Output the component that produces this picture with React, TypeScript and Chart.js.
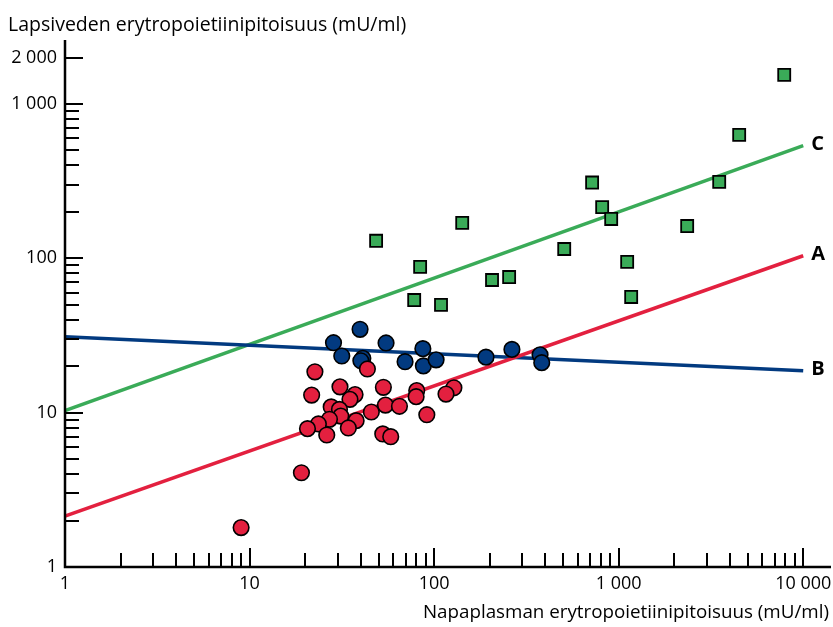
import { useEffect, useRef } from "react";
import { Chart, registerables } from "chart.js";
Chart.register(...registerables);

// Group A (red circles): cord plasma EPO vs amniotic EPO
const redX = [22.6, 43.5, 30.9, 53.1, 37.3, 35.0, 21.7, 80.5, 79.9, 128, 116, 27.7, 30.7, 54.5, 64.9, 45.7, 31.2, 27.1, 37.8, 23.6, 20.6, 34.3, 26.2, 91.3, 52.7, 58.2, 19.1, 9.0];
const redY = [18.4, 19.2, 14.7, 14.6, 13.1, 12.2, 13.0, 13.9, 12.7, 14.5, 13.2, 10.9, 10.5, 11.2, 11.0, 10.1, 9.5, 9.06, 8.88, 8.45, 7.88, 7.96, 7.17, 9.7, 7.28, 6.99, 4.08, 1.8];

// Group B (blue circles)
const blueX = [39.7, 28.5, 54.9, 31.6, 41.1, 40.1, 86.9, 69.6, 87.5, 102.5, 191, 264, 375, 383];
const blueY = [34.7, 28.4, 28.3, 23.3, 22.5, 21.7, 26.0, 21.4, 20.1, 22.0, 22.9, 25.7, 23.7, 21.1];

// Group C (green squares)
const greenX = [48.5, 142, 84, 78, 109, 206, 255, 507, 718, 814, 911, 1112, 1169, 2351, 3506, 4498, 7890];
const greenY = [130, 170, 88, 53.7, 49.9, 72.4, 75.7, 115, 310, 215, 180, 94.8, 56.2, 162, 313, 631, 1545];

// Regression lines (endpoints in data units)
const lineX = [1, 10000];
const lineA = [2.14, 104];
const lineB = [31, 18.7];
const lineC = [10.3, 537];
const lineNames = ["A", "B", "C"];

const xMajorTicks = [1, 10, 100, 1000, 10000];
const xTickLabels = ["1", "10", "100", "1 000", "10 000"];
const yMajorTicks = [1, 10, 100, 1000, 2000];
const yTickLabels = ["1", "10", "100", "1 000", "2 000"];
const minorMultipliers = [2, 3, 4, 5, 6, 7, 8, 9];

const yTitle = "Lapsiveden erytropoietiinipitoisuus (mU/ml)";
const xTitle = "Napaplasman erytropoietiinipitoisuus (mU/ml)";

const RED = "#e3203f";
const BLUE = "#023a80";
const GREEN = "#3aab58";
const FONT = "'Open Sans', sans-serif";

const toPts = (xs: number[], ys: number[]) => xs.map((x, i) => ({ x, y: ys[i] }));

export default function App() {
  const ref = useRef<HTMLCanvasElement | null>(null);
  useEffect(() => {
    if (!ref.current) return;
    const axesPlugin = {
      id: "customAxes",
      afterDraw(chart: any) {
        const ctx = chart.ctx;
        const xs = chart.scales.x;
        const ys = chart.scales.y;
        const ca = chart.chartArea;
        ctx.save();
        ctx.strokeStyle = "#000";
        ctx.fillStyle = "#000";
        // axis lines
        ctx.lineWidth = 2.5;
        ctx.beginPath();
        ctx.moveTo(ca.left, ca.top);
        ctx.lineTo(ca.left, ca.bottom);
        ctx.lineTo(chart.width - 2, ca.bottom);
        ctx.stroke();
        ctx.lineWidth = 2;
        // x ticks
        const xMinor: number[] = [];
        for (let d = 1; d < 10000; d *= 10) minorMultipliers.forEach((m) => xMinor.push(d * m));
        xMinor.forEach((v) => {
          const p = Math.round(xs.getPixelForValue(v));
          ctx.beginPath();
          ctx.moveTo(p, ca.bottom);
          ctx.lineTo(p, ca.bottom - 14);
          ctx.stroke();
        });
        xMajorTicks.forEach((v) => {
          const p = Math.round(xs.getPixelForValue(v));
          ctx.beginPath();
          ctx.moveTo(p, ca.bottom);
          ctx.lineTo(p, ca.bottom - 19);
          ctx.stroke();
        });
        // y ticks
        const yMinor: number[] = [];
        for (let d = 1; d < 1000; d *= 10) minorMultipliers.forEach((m) => yMinor.push(d * m));
        yMinor.forEach((v) => {
          const p = Math.round(ys.getPixelForValue(v));
          ctx.beginPath();
          ctx.moveTo(ca.left, p);
          ctx.lineTo(ca.left + 14, p);
          ctx.stroke();
        });
        yMajorTicks.forEach((v) => {
          const p = Math.round(ys.getPixelForValue(v));
          ctx.beginPath();
          ctx.moveTo(ca.left, p);
          ctx.lineTo(ca.left + 18, p);
          ctx.stroke();
        });
        // tick labels
        ctx.font = `18px ${FONT}`;
        ctx.textBaseline = "middle";
        ctx.textAlign = "center";
        xMajorTicks.forEach((v, i) => {
          ctx.fillText(xTickLabels[i], xs.getPixelForValue(v), ca.bottom + 17);
        });
        ctx.textAlign = "right";
        yMajorTicks.forEach((v, i) => {
          ctx.fillText(yTickLabels[i], ca.left - 8, ys.getPixelForValue(v));
        });
        // axis titles
        ctx.font = `19.5px ${FONT}`;
        ctx.textBaseline = "alphabetic";
        ctx.textAlign = "left";
        ctx.fillText(yTitle, 8, 31);
        ctx.font = `18.8px ${FONT}`;
        ctx.textAlign = "right";
        ctx.fillText(xTitle, chart.width - 4, 618);
        // line labels
        ctx.font = `bold 20px ${FONT}`;
        ctx.textAlign = "left";
        ctx.textBaseline = "middle";
        const ends = [lineA[1], lineB[1], lineC[1]];
        ends.forEach((yv, i) => {
          ctx.fillText(lineNames[i], xs.getPixelForValue(lineX[1]) + 8, ys.getPixelForValue(yv) - 1);
        });
        ctx.restore();
      },
    };
    const noGrid = { display: false, drawTicks: false };
    const chart = new Chart(ref.current, {
      type: "scatter",
      data: {
        datasets: [
          {
            label: "A",
            data: toPts(redX, redY),
            pointStyle: "circle",
            pointRadius: 7.8,
            backgroundColor: RED,
            borderColor: "#000",
            borderWidth: 1.6,
          },
          {
            label: "B",
            data: toPts(blueX, blueY),
            pointStyle: "circle",
            pointRadius: 7.8,
            backgroundColor: BLUE,
            borderColor: "#000",
            borderWidth: 1.6,
          },
          {
            label: "C",
            data: toPts(greenX, greenY),
            pointStyle: "rect",
            pointRadius: 8.5,
            backgroundColor: GREEN,
            borderColor: "#000",
            borderWidth: 1.8,
          },
          {
            label: "line A",
            data: toPts(lineX, lineA),
            showLine: true,
            pointRadius: 0,
            borderColor: RED,
            borderWidth: 3.5,
          },
          {
            label: "line B",
            data: toPts(lineX, lineB),
            showLine: true,
            pointRadius: 0,
            borderColor: BLUE,
            borderWidth: 3.5,
          },
          {
            label: "line C",
            data: toPts(lineX, lineC),
            showLine: true,
            pointRadius: 0,
            borderColor: GREEN,
            borderWidth: 3.5,
          },
        ],
      },
      options: {
        animation: false,
        responsive: false,
        maintainAspectRatio: false,
        layout: { autoPadding: false, padding: { left: 65, right: 0, top: 40, bottom: 60 } },
        plugins: { legend: { display: false }, tooltip: { enabled: false } },
        scales: {
          x: {
            type: "logarithmic",
            min: 1,
            max: 14500,
            ticks: { display: false, padding: 0 },
            grid: noGrid,
            border: { display: false },
          },
          y: {
            type: "logarithmic",
            min: 1,
            max: 2600,
            ticks: { display: false, padding: 0 },
            grid: noGrid,
            border: { display: false },
          },
        },
      },
      plugins: [axesPlugin],
    });
    return () => chart.destroy();
  }, []);
  return (
    <div style={{ position: "fixed", left: 0, top: 0, width: 833, height: 627, background: "#fff" }}>
      <canvas ref={ref} width={833} height={627} style={{ display: "block", width: 833, height: 627 }} />
    </div>
  );
}
